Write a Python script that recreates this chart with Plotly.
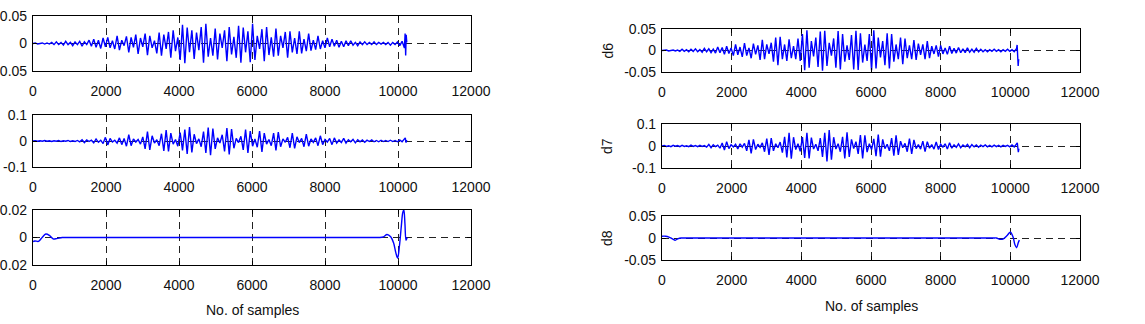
import plotly.graph_objects as go

# ---------------- data (values in thousandths) ----------------
STEP = 64  # sample spacing of the read-off extrema

# left top panel
a1_vals = [0, 1, -1, 0, 1, -1, 1, -1,
           2, -2, 3, -2, 2, -3, 4, -2, 2, -4, 3, -2, 4, -5, 3, -2,
           6, -5, 8, -7, 6, -9, 10, -6,
           11, -8, 5, -10, 14, -12, 6, -4, 13, -16, 11, -7,
           16, -19, 10, -6, 18, -21, 14, -8, 5, -18, 20,
           -22, 16, -10, 21, -26, 24, -14, 11,
           -30, 34, -36, 29, -16, 24, -28, 20,
           -12, 30, -35, 36, -24, 10, -22, 27,
           -29, 18, -8, 24, -32, 30, -20, 12,
           -26, 32, -35, 29, -16, 22, -34, 36,
           -30, 14, -10, 26, -32, 30, -21, 11,
           -24, 27, -22, 14, -8, 21, -26, 22,
           -16, 10, -19, 22, -18, 8, -14, 18,
           -13, 6, -11, 14, -10, 5, -8, 10,
           -6, 8, -5, 6, -7, 4, -6, 5,
           -4, 5, -3, 2, -4, 3, -2, 3,
           -2, 2, -2, 3, -2, 2, -1, 2,
           -2, 2, -3, 2, -2, 3, -4, 4, -8]
a1_tail_x = [10195, 10210, 10225, 10240]
a1_tail_y = [18, -22, 16, 2]

# left middle panel
a2_vals = [0, 1, -1, 1, -1, 2, -1, 1, -2, 1, -1, 2, -2, 1, -1, 2, -2, 1, -2, 2,
           -3, 5, -6, 4, -2, 3, -7, 8, -5, 3, -10, 14,
           -15, 10, -4, 3, -8, 12, -14, 10,
           -20, 24, -18, 8, -4, 6, -12, 16,
           -30, 36, -34, 20, -8, 5, -18, 28,
           -38, 42, -40, 30, -12, 6, -20, 32,
           -36, 44, -50, 54, -44, 26, -10, 8,
           -22, 36, -46, 52, -55, 48, -30, 12,
           -8, 24, -40, 50, -52, 46, -28, 10,
           -6, 18, -34, 44, -46, 38, -20, 8,
           -24, 38, -42, 30, -12, 6, -18, 30,
           -36, 34, -22, 8, -5, 14, -26, 30,
           -28, 16, -6, 10, -22, 26, -20, 8,
           -5, 12, -18, 20, -14, 6, -4, 10,
           -14, 12, -8, 4, -6, 10, -8, 5,
           -3, 6, -7, 5, -3, 4, -5, 3,
           -2, 4, -3, 2, -3, 3, -2, 2,
           -2, 3, -2, 2, -3, 4, -3, 6]
a2_tail_x = [10200, 10220, 10240]
a2_tail_y = [12, -6, 4]

# left bottom panel (smooth)
a3_x = [0, 50, 150, 250, 350, 450, 550, 650, 800, 900, 9400, 9500, 9600, 9700, 9800,
        9880, 9940, 9990, 10040, 10090, 10130, 10160, 10190, 10220, 10250]
a3_y = [-3, -2.5, -2.8, 0, 2.5, 1.5, -1, -0.8, 0, 0, 0, 0, 0.5, 2.2, 0.5,
        -4, -11, -15, -6, 8, 18, 20, 10, -2, 0]

# right top panel d6
d6_vals = [0, 0, 1, -1, 0, 1, -1, 1,
           -2, 3, -2, 2, -3, 3, -2, 4, -3, 2, -4, 5, -3, 4, -5, 3,
           -6, 8, -5, 7, -9, 10, -7, 6,
           -12, 14, -10, 8, -15, 17, -12, 6, -18, 16, -9, 12,
           -22, 25, -20, 14, -8, 18, -26, 30, -34, 32, -20,
           14, -24, 26, -18, 10, -20, 28, -24,
           38, -46, 47, -40, 22, -14, 30, -38,
           44, -47, 46, -36, 18, -12, 28, -40,
           45, -44, 38, -26, 12, -22, 36, -44,
           46, -45, 40, -28, 14, -24, 38, -46,
           47, -42, 30, -16, 22, -34, 40, -42,
           38, -26, 14, -20, 30, -32, 28, -18,
           12, -20, 24, -22, 16, -10, 14, -20,
           22, -18, 10, -8, 12, -14, 12, -8,
           6, -9, 10, -7, 5, -6, 7, -5,
           4, -5, 6, -4, 3, -4, 5, -3,
           3, -3, 2, -3, 2, -2, 3, -2,
           2, -3, 2, -2, 3, -2, 2, -3, 4]
d6_tail_x = [10195, 10210, 10225, 10240]
d6_tail_y = [13, -12, -36, -20]

# right middle panel d7
d7_vals = [0, 2, -2, 1, -3, 3, -1, 2, -3, 3, -2, 1, -3, 4, -2, 2, -3, 3, -2, 2,
           -5, 7, -8, 6, -3, 4, -10, 14, -18, 20, -12, 6,
           -4, 8, -14, 10, -5, 12, -22, 28,
           -34, 30, -16, 8, -6, 14, -26, 34,
           -40, 36, -22, 10, -8, 18, -30, 42,
           -52, 60, -58, 40, -16, 10, -24, 40,
           -54, 60, -56, 38, -14, 8, -22, 36,
           -50, 60, -70, 72, -62, 40, -14, 10,
           -26, 42, -56, 62, -50, 30, -12, 20,
           -36, 50, -56, 48, -28, 10, -16, 32,
           -46, 52, -48, 30, -12, 8, -22, 36,
           -44, 48, -40, 22, -8, 12, -26, 34,
           -36, 28, -12, 6, -14, 22, -26, 20,
           -10, 6, -14, 18, -16, 8, -5, 10,
           -14, 15, -10, 5, -6, 10, -8, 5,
           -4, 7, -8, 6, -4, 5, -6, 4,
           -3, 5, -4, 3, -4, 4, -3, 3,
           -4, 3, -2, 3, -4, 5, -4, 6]
d7_tail_x = [10200, 10215, 10230, 10245]
d7_tail_y = [14, -8, -28, -12]

# right bottom panel d8 (smooth)
d8_x = [0, 100, 200, 300, 380, 450, 550, 650, 9500, 9600, 9700, 9800, 9900, 10000,
        10080, 10130, 10180, 10230, 10260]
d8_y = [4, 4, 2, -2, -5, -2, 0, 0, 0, 0, -3, -2, 5, 13, 2, -15, -22, -10, -5]

# axes tick labels
x_tickvals = [0, 2000, 4000, 6000, 8000, 10000, 12000]
x_ticktext = ["0", "2000", "4000", "6000", "8000", "10000", "12000"]
y_ticks_05 = ([-0.05, 0, 0.05], ["-0.05", "0", "0.05"])
y_ticks_1 = ([-0.1, 0, 0.1], ["-0.1", "0", "0.1"])
y_ticks_02 = ([-0.02, 0, 0.02], ["-0.02", "0", "0.02"])
x_title = "No. of samples"
y_titles = ["d6", "d7", "d8"]


def osc(vals, tx, ty):
    xs = [i * STEP for i in range(len(vals))] + list(tx)
    ys = [v / 1000 for v in vals] + [v / 1000 for v in ty]
    return xs, ys


series = [
    (*osc(a1_vals, a1_tail_x, a1_tail_y), "linear"),
    (*osc(a2_vals, a2_tail_x, a2_tail_y), "linear"),
    (a3_x, [v / 1000 for v in a3_y], "spline"),
    (*osc(d6_vals, d6_tail_x, d6_tail_y), "linear"),
    (*osc(d7_vals, d7_tail_x, d7_tail_y), "linear"),
    (d8_x, [v / 1000 for v in d8_y], "spline"),
]

# ---------------- layout (pixel boxes) ----------------
W, H = 1145, 324
boxes = [  # x0, x1, top, bottom, yrange, yticks
    (33, 471, 16, 71, 0.05, y_ticks_05),
    (33, 471, 115, 167, 0.1, y_ticks_1),
    (33, 471, 210, 265, 0.02, y_ticks_02),
    (662, 1080, 29, 72, 0.05, y_ticks_05),
    (662, 1080, 124, 168, 0.1, y_ticks_1),
    (662, 1080, 216, 260, 0.05, y_ticks_05),
]

FONT = "Liberation Sans, Arial, sans-serif"
FS = 14
fig = go.Figure()
layout = {}
for i, ((xs, ys, shape), (x0, x1, top, bot, yr, (tv, tt))) in enumerate(zip(series, boxes)):
    n = "" if i == 0 else str(i + 1)
    fig.add_trace(go.Scatter(x=xs, y=ys, mode="lines",
                             line=dict(color="#0000ff", width=1.4, shape=shape),
                             xaxis="x" + n, yaxis="y" + n, showlegend=False, hoverinfo="skip"))
    common = dict(showline=True, linecolor="black", linewidth=1.2, mirror="ticks", ticks="inside",
                  ticklen=4, tickcolor="black", showgrid=True, gridcolor="#222", griddash="7px,5px",
                  gridwidth=1, zeroline=False, automargin=False,
                  tickfont=dict(family=FONT, size=FS, color="#111"))
    layout["xaxis" + n] = dict(domain=[x0 / W, x1 / W], range=[0, 12000], anchor="y" + n,
                               tickvals=x_tickvals, ticktext=x_ticktext, ticklabelstandoff=7, **common)
    layout["yaxis" + n] = dict(domain=[1 - bot / H, 1 - top / H], range=[-yr, yr], anchor="x" + n,
                               tickvals=tv, ticktext=tt, ticklabelstandoff=2, **common)

ann = [
    dict(text=x_title, x=252 / W, y=1 - 310 / H, xref="paper", yref="paper", showarrow=False,
         xanchor="center", yanchor="middle", font=dict(family=FONT, size=FS, color="#111")),
    dict(text=x_title, x=871 / W, y=1 - 306 / H, xref="paper", yref="paper", showarrow=False,
         xanchor="center", yanchor="middle", font=dict(family=FONT, size=FS, color="#111")),
]
for t, (x0, x1, top, bot, *_r) in zip(y_titles, boxes[3:]):
    ann.append(dict(text=t, x=607 / W, y=1 - (top + bot) / 2 / H, xref="paper", yref="paper",
                    showarrow=False, textangle=-90, xanchor="center", yanchor="middle",
                    font=dict(family=FONT, size=FS, color="#111")))

fig.update_layout(width=W, height=H, margin=dict(l=0, r=0, t=0, b=0), template="none",
                  paper_bgcolor="white", plot_bgcolor="white", annotations=ann, **layout)
fig.write_html("out.html")
